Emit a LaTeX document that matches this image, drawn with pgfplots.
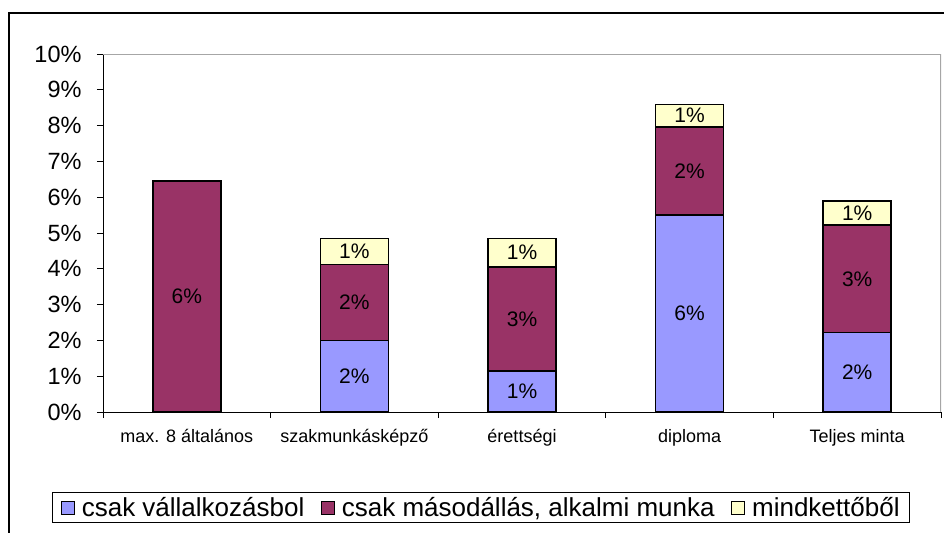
\documentclass[border=0pt]{standalone}
\usepackage{pgfplots}
\pgfplotsset{compat=1.18}
\usepackage{fontspec}
\setmainfont{Liberation Sans}
\definecolor{cblue}{HTML}{9999FF}
\definecolor{cred}{HTML}{993366}
\definecolor{cyel}{HTML}{FFFFCC}
\begin{document}
\begin{tikzpicture}
\path[use as bounding box] (0,0) rectangle (944bp,-533bp);
\draw[black, line width=1.3bp] (9bp,-13bp) rectangle (1000bp,-600bp);
\begin{axis}[
  at={(103bp,-412bp)}, anchor=south west,
  scale only axis, width=838bp, height=358bp,
  ybar stacked, bar width=68bp,
  xmin=-0.5, xmax=4.5, ymin=0, ymax=10,
  ytick={0,1,...,10},
  /pgf/number format/assume math mode=true,
  yticklabel={\pgfmathprintnumber{\tick}\%},
  xtick={0,1,2,3,4},
  xticklabels={max. 8 általános, szakmunkásképző, érettségi, diploma, Teljes minta},
  minor xtick={-0.5,0.5,1.5,2.5,3.5,4.5},
  major x tick style={draw=none},
  tick align=outside,
  major tick length=6bp, minor tick length=6bp,
  axis x line*=bottom, axis y line*=left,
  axis line style={black, line width=1bp},
  tick style={black, line width=1bp},
  yticklabel style={font=\fontsize{23.5bp}{28bp}\selectfont, xshift=-12bp},
  xticklabel style={font=\fontsize{18bp}{22bp}\selectfont, yshift=-8bp},
  legend columns=3,
  legend image code/.code={\draw[#1, draw=black, line width=1bp] (0bp,-6.5bp) rectangle (13bp,6.5bp); \path (0bp,0bp) (18bp,0bp);},
  legend style={at={(0.451,-0.2668)}, anchor=center, draw=black, line width=1bp,
    font=\fontsize{26bp}{30bp}\selectfont, inner xsep=8bp, inner ysep=3bp},
]
\addplot[fill=cblue, draw=black, line width=1.5bp] coordinates {(0,0) (1,2.0) (2,1.15) (3,5.5) (4,2.22)};
\addlegendentry{csak vállalkozásbol\hbox to 14bp{}}
\addplot[fill=cred, draw=black, line width=1.5bp] coordinates {(0,6.45) (1,2.12) (2,2.9) (3,2.46) (4,3.0)};
\addlegendentry{csak másodállás, alkalmi munka\hbox to 14bp{}}
\addplot[fill=cyel, draw=black, line width=1.5bp] coordinates {(0,0) (1,0.73) (2,0.8) (3,0.63) (4,0.68)};
\addlegendentry{mindkettőből}
\draw[gray!70, line width=1.5bp] (rel axis cs:0,1) -- (rel axis cs:1,1) -- (rel axis cs:1,0);
\end{axis}
\begin{axis}[
  at={(103bp,-412bp)}, anchor=south west,
  scale only axis, width=838bp, height=358bp,
  xmin=-0.5, xmax=4.5, ymin=0, ymax=10,
  hide axis,
]
\addplot[draw=none, nodes near coords={\pgfplotspointmeta\%}, point meta=explicit symbolic,
  nodes near coords align=center,
  every node near coord/.style={font=\fontsize{21bp}{25bp}\selectfont, anchor=center, black}]
  table[meta=lab] {
x y lab
0 3.225 6
1 1.0 2
1 3.06 2
1 4.485 1
2 0.575 1
2 2.6 3
2 4.45 1
3 2.75 6
3 6.73 2
3 8.275 1
4 1.11 2
4 3.72 3
4 5.56 1
};
\end{axis}
\end{tikzpicture}
\end{document}
